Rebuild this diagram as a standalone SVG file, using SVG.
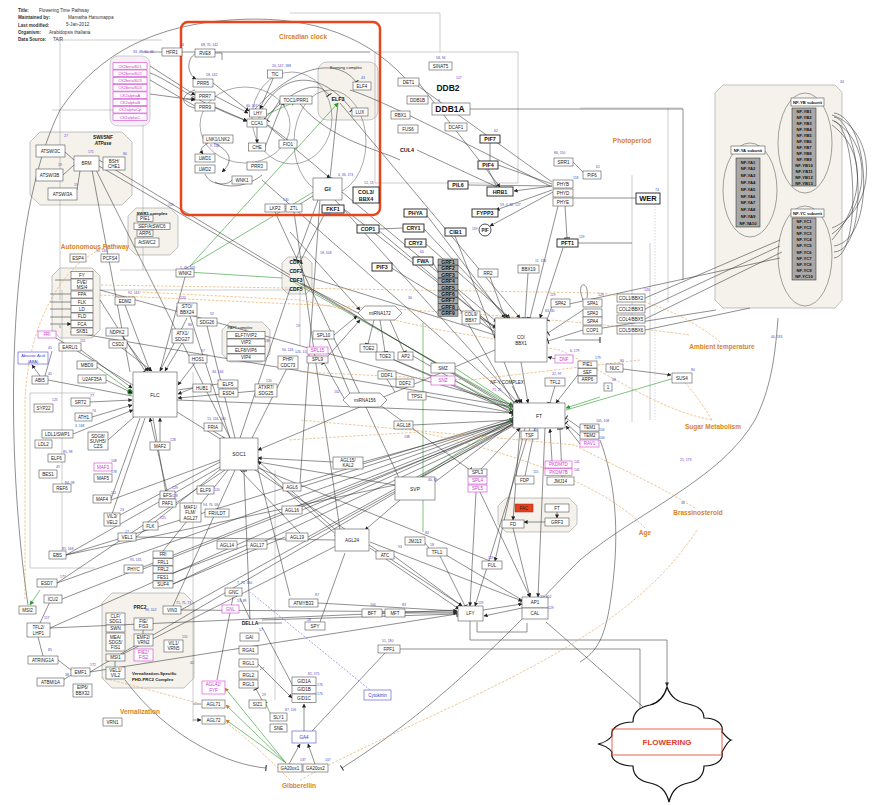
<svg xmlns="http://www.w3.org/2000/svg" width="877" height="805" viewBox="0 0 877 805">
<defs>
<style>
text{font-family:"Liberation Sans","DejaVu Sans",sans-serif;font-size:4.5px;fill:#222;text-anchor:middle;dominant-baseline:central}
.n{fill:#fff;stroke:#555;stroke-width:.6}
.nb{fill:#fff;stroke:#222;stroke-width:.9}
.b{font-weight:bold;font-size:5.4px;fill:#111}
.mg{fill:#fff;stroke:#d23ed2;stroke-width:.6}
.m{fill:#c83cc8}
.bl{fill:#fff;stroke:#4a4ad0;stroke-width:.6}
.bt{fill:#3a3ac8}
.dk{fill:#a8a8a8;stroke:#222;stroke-width:.5}
.g{fill:#f4f2eb;stroke:#aaa;stroke-width:.7}
.num{fill:#4848c8;font-size:3.4px;text-anchor:start}
.lab{fill:#d9841c;font-weight:bold;font-size:6.5px}
.hd{font-size:4.6px;text-anchor:start;fill:#333}
.e{fill:none;stroke:#333;stroke-width:.55}
.e2{fill:none;stroke:#999;stroke-width:.5}
.gr{fill:none;stroke:#2c9a2c;stroke-width:.6}
.od{fill:none;stroke:#e2a050;stroke-width:.6;stroke-dasharray:2.5 1.5}
.bd{fill:none;stroke:#4a4ad0;stroke-width:.5;stroke-dasharray:2 1.5}
.nf{font-weight:bold;font-size:4.2px;fill:#111}
</style>
<marker id="a" viewBox="0 0 10 10" refX="9" refY="5" markerUnits="userSpaceOnUse" markerWidth="4" markerHeight="4" orient="auto"><path d="M0,0L10,5L0,10z" fill="#222"/></marker>
<marker id="ag" viewBox="0 0 10 10" refX="9" refY="5" markerUnits="userSpaceOnUse" markerWidth="4.5" markerHeight="4.5" orient="auto"><path d="M0,0L10,5L0,10z" fill="#2c9a2c"/></marker>
<marker id="ao" viewBox="0 0 10 10" refX="9" refY="5" markerUnits="userSpaceOnUse" markerWidth="4" markerHeight="4" orient="auto"><path d="M0,0L10,5L0,10z" fill="#c87a20"/></marker>
<marker id="t" viewBox="0 0 10 10" refX="8" refY="5" markerUnits="userSpaceOnUse" markerWidth="6" markerHeight="6" orient="auto"><path d="M8,0V10" stroke="#222" stroke-width="1.6"/></marker>
<marker id="tg" viewBox="0 0 10 10" refX="8" refY="5" markerUnits="userSpaceOnUse" markerWidth="6" markerHeight="6" orient="auto"><path d="M8,0V10" stroke="#2c9a2c" stroke-width="1.6"/></marker>
</defs>
<rect width="877" height="805" fill="#fff"/>

<g id="header">
<text class="hd" x="18" y="10"><tspan font-weight="bold">Title:</tspan></text><text class="hd" x="39" y="10">Flowering Time Pathway</text>
<text class="hd" x="18" y="17"><tspan font-weight="bold">Maintained by:</tspan></text><text class="hd" x="68" y="17">Mamatha Hanumappa</text>
<text class="hd" x="18" y="24.5"><tspan font-weight="bold">Last modified:</tspan></text><text class="hd" x="66" y="24.5">5-Jan-2012</text>
<text class="hd" x="18" y="32"><tspan font-weight="bold">Organism:</tspan></text><text class="hd" x="49" y="32">Arabidopsis thaliana</text>
<text class="hd" x="18" y="39"><tspan font-weight="bold">Data Source:</tspan></text><text class="hd" x="53" y="39">TAIR</text>
</g>

<g id="groups">
<rect class="g" x="318" y="62" width="60" height="58" rx="9"/>
<text x="346" y="67" style="font-size:4.2px">Evening complex</text>
<rect x="110" y="56" width="40" height="70" rx="8" fill="#f6eff6" stroke="#bbb" stroke-width=".7"/>
<path class="g" d="M40,132H122L132,142V195L122,205H40L30,195V142Z"/>
<text x="103" y="137.5" style="font-weight:bold;font-size:4.8px">SWI/SNF</text>
<text x="103" y="143.5" style="font-weight:bold;font-style:italic;font-size:4.6px">ATPase</text>
<path class="g" d="M136,208H170L178,216V247L170,255H136L128,247V216Z"/>
<text x="152" y="213" style="font-weight:bold;font-size:4.3px">SWR1 complex</text>
<path class="g" d="M60,268H92L100,276V330L92,338H60L52,330V276Z"/>
<path class="g" d="M230,322H262L270,330V354L262,362H230L222,354V330Z"/>
<text x="240" y="327" style="font-size:3.9px">PAF1 complex</text>
<path class="g" d="M112,593H184L194,603V678L184,688H112L102,678V603Z"/>
<text x="140" y="607" style="font-weight:bold;font-size:4.8px">PRC2</text>
<text x="132" y="673" style="font-weight:bold;font-size:4.3px;text-anchor:start">Vernalization-Specific</text>
<text x="132" y="679" style="font-weight:bold;font-size:4.3px;text-anchor:start">PHD-PRC2 Complex</text>
<path class="g" d="M288,257H306L312,263V288L306,294H288L282,288V263Z"/>
<path class="g" d="M506,498H569L577,506V524L569,532H506L498,524V506Z"/>
<path class="g" d="M723,85H835L842,92V300L835,308H723L715,300V93Z"/>
<ellipse cx="805" cy="143" rx="27" ry="50" fill="none" stroke="#666" stroke-width=".6"/>
<ellipse cx="750" cy="190" rx="27" ry="47" fill="none" stroke="#666" stroke-width=".6"/>
<ellipse cx="805" cy="256" rx="27" ry="50" fill="none" stroke="#666" stroke-width=".6"/>
</g>

<g id="frames">
<path class="e2" d="M290,13H440V52M375,52H518V183H375ZM580,108H683M668,108V303M632,175V422M650,243V420M60,40V300M60,40H162M52,110H145M30,393V568H95M30,393H95M62,290V560M193,372V722M275,470V700M143,125V270M120,270H185M100,290H300V345"/>
<path d="M655,200V420" fill="none" stroke="#aac" stroke-width=".5" stroke-dasharray="1.5 1.5"/>
</g>

<g id="connectors">
<!-- big arcs -->
<path class="e" d="M28,605C5,450 5,220 60,110C100,50 160,25 230,20C300,15 360,30 405,78"/>
<path class="e" d="M778,318C775,360 770,390 755,420C720,480 640,510 580,560C520,620 450,700 342,768" marker-end="url(#t)"/>
<path class="e" d="M125,680C170,740 230,765 266,768" marker-end="url(#t)"/>
<path class="e" d="M600,440C615,480 620,530 612,590C606,640 596,652 580,662"/>
<path class="e" d="M832,115C878,130 878,210 832,228M832,120C872,140 872,205 832,234M832,125C866,150 866,200 832,240M834,113C870,118 877,240 834,246M834,117C862,122 870,250 834,252M834,121C856,126 862,255 834,258"/>
<path class="e" d="M780,240L645,298M780,246L645,309M782,252L645,319M750,308L645,330M780,258L560,306M716,310L590,330"/>
<path class="e" d="M470,109H683V280"/>
<!-- circadian -->
<ellipse cx="245" cy="125" rx="45" ry="38" fill="none" stroke="#555" stroke-width=".5"/>
<ellipse cx="292" cy="118" rx="40" ry="46" fill="none" stroke="#555" stroke-width=".5"/>
<ellipse cx="330" cy="142" rx="36" ry="52" fill="none" stroke="#555" stroke-width=".5"/>
<path class="e" d="M182,52H370"/>
<path class="e" d="M196,53C185,60 188,75 196,79" marker-end="url(#a)"/>
<path class="e" d="M213,83L249,111" marker-end="url(#a)"/>
<path class="e" d="M215,96L248,113" marker-end="url(#a)"/>
<path class="e" d="M215,107L247,121" marker-end="url(#a)"/>
<path class="e" d="M280,100L267,120" marker-end="url(#t)"/>
<path class="e" d="M257,127V143" marker-end="url(#a)"/>
<path class="e" d="M265,147L282,104" marker-end="url(#t)"/>
<path class="e" d="M267,125L330,178" marker-end="url(#a)"/>
<path class="e" d="M338,103L330,178" marker-end="url(#t)"/>
<path class="e" d="M255,109C300,60 340,60 356,82" marker-end="url(#t)"/>
<path class="e" d="M262,109C290,62 330,80 352,110" marker-end="url(#t)"/>
<path class="e" d="M264,119C300,82 320,82 329,95" marker-end="url(#t)"/>
<path class="e" d="M275,74L260,109" marker-end="url(#a)"/>
<path class="e" d="M288,140L268,125"/>
<path class="e" d="M208,143C200,148 200,150 203,154" marker-end="url(#a)"/>
<path class="e" d="M205,174C210,186 228,186 232,180"/>
<path class="e" d="M186,99H195" marker-end="url(#a)"/>
<path class="e" d="M195,90C180,95 180,105 195,108"/>
<path class="e" d="M215,53H222V60"/>
<path class="e" d="M210,141C230,150 235,160 222,172" marker-end="url(#a)"/>
<path class="e" d="M262,175C250,185 230,190 215,182"/>
<path class="e" d="M300,104C330,140 380,150 400,160"/>
<path class="e" d="M350,90C380,100 420,120 550,186"/>
<path class="e" d="M340,103L520,318" marker-end="url(#a)"/>
<path class="e" d="M335,200L518,403" marker-end="url(#a)"/>
<path class="e" d="M342,192L497,322" marker-end="url(#a)"/>
<path class="e" d="M344,209L496,328" marker-end="url(#a)"/>
<path class="e" d="M325,213L300,262" marker-end="url(#t)"/>
<path class="e" d="M318,200L296,260" marker-end="url(#t)"/>
<path class="e" d="M300,204L313,196"/>
<path class="e" d="M150,73C170,80 190,100 247,121" marker-end="url(#a)"/>
<path class="e" d="M150,66L195,95" marker-end="url(#a)"/>
<path class="e" d="M150,94L195,100" marker-end="url(#a)"/>
<path class="e" d="M150,80L195,106"/>
<path class="e" d="M162,52H142"/>
<path class="gr" d="M185,269L325,185"/>
<path class="gr" d="M190,266L338,103" marker-end="url(#ag)"/>
<path class="gr" d="M188,272L282,278"/>
<path class="gr" d="M258,118L295,102" marker-end="url(#ag)"/>
<path class="gr" d="M290,280L513,406" marker-end="url(#ag)"/>
<path class="gr" d="M423,323V532"/>
<!-- photoperiod -->
<path class="e" d="M418,82L500,187" marker-end="url(#a)"/>
<path class="e" d="M417,150L497,187"/>
<path class="e" d="M488,169L497,187"/>
<path class="e" d="M490,143V161"/>
<path class="e" d="M552,186L514,191" marker-end="url(#a)"/>
<path class="e" d="M552,184L498,165"/>
<path class="e" d="M552,186L468,185"/>
<path class="e" d="M552,182L418,86"/>
<path class="e" d="M552,190L496,210" marker-end="url(#a)"/>
<path class="e" d="M553,192L490,226" marker-end="url(#a)"/>
<path class="e" d="M558,206L530,318" marker-end="url(#t)"/>
<path class="e" d="M565,206L567,238" marker-end="url(#t)"/>
<path class="e" d="M573,198L636,198"/>
<path class="e" d="M573,162L583,172"/>
<path class="e" d="M563,248L540,318" marker-end="url(#a)"/>
<path class="e" d="M578,243H632"/>
<path class="e" d="M425,213L505,318" marker-end="url(#a)"/>
<path class="e" d="M423,228L508,318" marker-end="url(#a)"/>
<path class="e" d="M425,243L510,318" marker-end="url(#a)"/>
<path class="e" d="M378,230L497,330" marker-end="url(#t)"/>
<path class="e" d="M379,229L403,228"/>
<path class="e" d="M432,261L515,405" marker-end="url(#t)"/>
<path class="e" d="M455,236L520,403" marker-end="url(#a)"/>
<path class="e" d="M456,290L496,335"/>
<path class="e" d="M390,267L497,333"/>
<path class="e" d="M490,277L505,318" marker-end="url(#a)"/>
<path class="e" d="M528,273L525,318" marker-end="url(#t)"/>
<path class="e" d="M480,318L495,326" marker-end="url(#t)"/>
<path class="e" d="M552,306L547,320" marker-end="url(#t)"/>
<path class="e" d="M583,310L548,333" marker-end="url(#t)"/>
<path class="e" d="M583,330L548,341" marker-end="url(#t)"/>
<path class="e" d="M583,300C575,280 590,280 587,298"/>
<path class="e" d="M302,275L495,335" marker-end="url(#t)"/>
<path class="e" d="M302,283L513,410" marker-end="url(#t)"/>
<path class="e" d="M521,362L528,403" marker-end="url(#a)"/>
<path class="e" d="M495,350L258,450" marker-end="url(#a)"/>
<path class="e" d="M512,386L522,403" marker-end="url(#a)"/>
<path class="e" d="M555,386L550,403" marker-end="url(#t)"/>
<path class="e" d="M556,359L548,357" marker-end="url(#a)"/>
<path class="e" d="M565,340H600" marker-end="url(#t)"/>
<!-- center -->
<path class="e" d="M380,320L385,352" marker-end="url(#t)"/>
<path class="e" d="M374,320L368,344" marker-end="url(#t)"/>
<path class="e" d="M390,320L404,352" marker-end="url(#t)"/>
<path class="e" d="M376,352L513,410" marker-end="url(#t)"/>
<path class="e" d="M394,360L513,412" marker-end="url(#t)"/>
<path class="e" d="M413,356L513,414" marker-end="url(#t)"/>
<path class="e" d="M334,335L357,316" marker-end="url(#a)"/>
<path class="e" d="M328,356L360,320" marker-end="url(#a)"/>
<path class="e" d="M345,400L324,363" marker-end="url(#t)"/>
<path class="e" d="M350,394L327,339" marker-end="url(#t)"/>
<path class="e" d="M380,405L470,470" marker-end="url(#t)"/>
<path class="e" d="M358,313L300,283"/>
<path class="e" d="M290,232L360,310" marker-end="url(#a)"/>
<path class="e" d="M387,379L395,392"/>
<path class="gr" d="M455,368L513,406" marker-end="url(#ag)"/>
<path class="gr" d="M455,381L513,410" marker-end="url(#ag)"/>
<path class="e" d="M426,396L513,413" marker-end="url(#a)"/>
<path class="e" d="M413,425L513,420" marker-end="url(#t)"/>
<path class="e" d="M435,482L513,423" marker-end="url(#t)"/>
<path class="e" d="M395,485L258,462" marker-end="url(#t)"/>
<path class="e" d="M363,462L513,421" marker-end="url(#t)"/>
<path class="e" d="M333,462L258,458" marker-end="url(#a)"/>
<path class="gr" d="M420,477L513,418" marker-end="url(#ag)"/>
<path class="e" d="M480,470L520,428" marker-end="url(#a)"/>
<path class="e" d="M480,492L530,597" marker-end="url(#a)"/>
<path class="e" d="M476,492L470,606" marker-end="url(#a)"/>
<path class="e" d="M520,428L513,520" marker-end="url(#a)"/>
<path class="e" d="M513,528L530,597" marker-end="url(#a)"/>
<path class="e" d="M545,428L538,597" marker-end="url(#a)"/>
<path class="e" d="M530,428L475,606" marker-end="url(#a)"/>
<path class="e" d="M525,428L495,561" marker-end="url(#a)"/>
<path class="e" d="M525,476L535,428"/>
<path class="e" d="M552,461L550,429" marker-end="url(#a)"/>
<path class="e" d="M562,477L560,429" marker-end="url(#t)"/>
<path class="e" d="M580,428L566,418" marker-end="url(#t)"/>
<path class="e" d="M580,436L566,423" marker-end="url(#t)"/>
<path class="e" d="M580,444L566,426" marker-end="url(#a)"/>
<path class="gr" d="M600,397L566,408" marker-end="url(#ag)"/>
<path class="gr" d="M566,410L678,377" marker-end="url(#ag)"/>
<path class="e" d="M623,369L671,375" marker-end="url(#a)"/>
<path class="e" d="M580,372L556,403" marker-end="url(#a)"/>
<path class="e" d="M557,512V518" marker-end="url(#a)"/>
<path class="e" d="M545,522H524" marker-end="url(#a)"/>
<!-- FLC / SOC1 -->
<path class="e" d="M177,400L513,413" marker-end="url(#t)"/>
<path class="e" d="M177,412L222,440" marker-end="url(#t)"/>
<path class="e" d="M258,466L338,536" marker-end="url(#a)"/>
<path class="e" d="M338,532L258,461" marker-end="url(#a)"/>
<path class="e" d="M255,470L462,606" marker-end="url(#a)"/>
<path class="e" d="M258,468L490,561"/>
<path class="e" d="M370,548L459,609" marker-end="url(#a)"/>
<path class="e" d="M370,542L522,601" marker-end="url(#a)"/>
<path class="e" d="M400,500L365,530" marker-end="url(#a)"/>
<path class="e" d="M425,543L429,548"/>
<path class="e" d="M394,556L462,606" marker-end="url(#a)"/>
<path class="e" d="M440,556L465,606" marker-end="url(#t)"/>
<path class="e" d="M446,555L522,600" marker-end="url(#t)"/>
<path class="e" d="M382,613H386" marker-end="url(#t)"/>
<path class="e" d="M405,613H457" marker-end="url(#a)"/>
<path class="e" d="M318,603L457,611" marker-end="url(#a)"/>
<path class="e" d="M483,610L522,604" marker-end="url(#a)"/>
<path class="e" d="M522,608L484,616" marker-end="url(#a)"/>
<path class="e" d="M470,621V640H667V686" marker-end="url(#a)"/>
<path class="e" d="M477,622V632H527V623"/>
<path class="e" d="M400,649H640V726" marker-end="url(#a)"/>
<path class="e" d="M546,622L665,726" marker-end="url(#a)"/>
<path class="e" d="M55,280H71M50,294H71M50,302H71M50,309H71M50,317H71M50,324H71" marker-end="url(#a)"/>
<path class="e" d="M100,300L145,371" marker-end="url(#t)"/>
<path class="e" d="M125,305L150,371" marker-end="url(#a)"/>
<path class="e" d="M122,336L148,371" marker-end="url(#a)"/>
<path class="e" d="M122,348L152,371" marker-end="url(#a)"/>
<path class="e" d="M187,318L160,371" marker-end="url(#a)"/>
<path class="e" d="M182,343L165,371" marker-end="url(#a)"/>
<path class="e" d="M195,363L178,385" marker-end="url(#a)"/>
<path class="e" d="M193,388L178,394" marker-end="url(#a)"/>
<path class="e" d="M218,384L178,390"/>
<path class="e" d="M255,391L178,398" marker-end="url(#a)"/>
<path class="gr" d="M97,367L132,392" marker-end="url(#ag)"/>
<circle cx="130" cy="392" r="2.6" fill="#1c9a1c"/>
<path class="e" d="M106,380L132,393" marker-end="url(#a)"/>
<path class="e" d="M90,402L132,400" marker-end="url(#a)"/>
<path class="e" d="M92,417L132,405" marker-end="url(#a)"/>
<path class="e" d="M81,350L132,388" marker-end="url(#a)"/>
<path class="e" d="M160,442V418" marker-end="url(#a)"/>
<path class="e" d="M167,491L150,418" marker-end="url(#a)"/>
<path class="e" d="M167,499L153,418"/>
<path class="e" d="M112,514L145,418"/>
<path class="e" d="M111,499L140,418"/>
<path class="e" d="M108,440L134,417"/>
<path class="e" d="M73,434L133,410" marker-end="url(#a)"/>
<path class="e" d="M56,338L133,385"/>
<path class="e" d="M40,376L32,365" marker-end="url(#a)"/>
<path class="e" d="M45,376L52,351"/>
<path class="e" d="M48,380L132,396"/>
<path class="e" d="M99,160L290,275M95,168L230,438M92,170L130,372M99,166L513,408"/>
<path class="e" d="M65,152L74,160M63,175L74,165M77,190L80,171"/>
<path class="gr" d="M40,590L30,605" marker-end="url(#ag)"/>
<path class="e" d="M66,555L513,418M57,583L513,420M62,599L513,421M50,628L513,422M90,672L513,424M143,569L513,424M173,584L513,425M181,610L513,426M301,487L513,420M302,510L513,422M308,537L513,424M100,290L513,405M70,332L513,407"/>
<path class="e" d="M66,555L222,466M57,583L225,470M136,537L222,468M163,551L228,470M173,606L235,470M111,500L220,460M120,515L220,462"/>
<path class="e" d="M66,555L395,485M115,658L338,545M181,610L457,612M90,672L457,614M50,628L457,610M136,537L335,540M173,584L285,537M163,577L247,545"/>
<path class="e" d="M290,289L240,438M185,277L160,371M190,316L230,438M207,326L235,438M288,366L252,438M213,431L225,438"/>
<path class="e" d="M262,180L515,403M275,212L400,480M294,212L340,530M320,200L300,483M240,470L300,533M258,470L290,596"/>
<path class="e" d="M240,598L250,619M262,627L295,690" marker-end="url(#t)"/>
<path class="e" d="M250,619L244,471" marker-end="url(#t)"/>
<path class="e" d="M262,620L457,614" marker-end="url(#t)"/>
<path class="e" d="M257,663L292,698" marker-end="url(#a)"/>
<path class="e" d="M262,700L256,689" marker-end="url(#t)"/>
<path class="gr" d="M270,713L264,700" marker-end="url(#ag)"/>
<path class="e" d="M289,764L300,744" marker-end="url(#a)"/>
<path class="e" d="M315,764L308,744" marker-end="url(#a)"/>
<path class="e" d="M304,731V704" marker-end="url(#a)"/>
<path class="e" d="M312,731L385,653"/>
<path class="e" d="M258,623H282"/>
<path class="e" d="M320,622L345,553"/>
<path class="e" d="M217,680L233,597"/>
<path class="e" d="M193,704H201M193,720H201" marker-end="url(#a)"/>
<path class="gr" d="M286,763L225,688" marker-end="url(#ao)"/>
<path class="gr" d="M286,763L226,705" marker-end="url(#ao)"/>
<path class="gr" d="M286,763L226,720" marker-end="url(#ao)"/>
<path class="bd" d="M370,690L250,592"/>
<path class="e" d="M115,661V667M143,630V634"/>
<path class="e" d="M53,595L40,623M38,637L43,656M58,660L71,670M60,682L71,675"/>
<!-- orange dashed -->
<path class="od" d="M720,342C700,325 660,300 600,293L100,285"/>
<path class="od" d="M712,420C700,400 692,390 684,382"/>
<path class="od" d="M712,420C660,410 620,380 560,350L440,330L300,300L140,292"/>
<path class="od" d="M695,508C650,480 600,460 575,445L300,420"/>
<path class="od" d="M645,528C600,480 500,450 420,432L288,440"/>
<path class="od" d="M300,780C450,700 620,650 697,530"/>
<path class="od" d="M290,780C270,760 250,740 225,722"/>
<path class="od" d="M197,703C170,695 130,685 100,677"/>
<path class="od" d="M115,245C80,250 30,300 25,400V600"/>
<path class="od" d="M100,295C300,305 500,310 690,335"/>
<path class="od" d="M640,360L470,380L300,372"/>
</g>

<g id="circadian-clock">
<rect x="181" y="22" width="199" height="193" rx="7" fill="none" stroke="#e8451e" stroke-width="2.5"/>
<text class="lab" x="303" y="36">Circadian clock</text>
</g>

<g id="nodes">
<g id="RVE8"><rect class="n" x="195" y="49" width="20" height="8"/><text x="205" y="53">RVE8</text></g>
<g id="PRR5"><rect class="n" x="193" y="79" width="20" height="8"/><text x="203" y="83">PRR5</text></g>
<g id="PRR7"><rect class="n" x="195" y="92" width="20" height="8"/><text x="205" y="96">PRR7</text></g>
<g id="PRR9"><rect class="n" x="195" y="103" width="20" height="8"/><text x="205" y="107">PRR9</text></g>
<g id="LHY"><rect class="n" x="249.5" y="109" width="17" height="8"/><text x="258" y="113">LHY</text></g>
<g id="CCA1"><rect class="n" x="247" y="119" width="20" height="8"/><text x="257" y="123">CCA1</text></g>
<g id="LNK"><rect class="n" x="203" y="135" width="30" height="8"/><text x="218" y="139">LNK1/LNK2</text></g>
<g id="LWD1"><rect class="n" x="195" y="154" width="20" height="8"/><text x="205" y="158">LWD1</text></g>
<g id="LWD2"><rect class="n" x="195" y="165" width="20" height="8"/><text x="205" y="169">LWD2</text></g>
<g id="CHE"><rect class="n" x="248.5" y="143" width="17" height="8"/><text x="257" y="147">CHE</text></g>
<g id="PRR3"><rect class="n" x="247" y="162" width="20" height="8"/><text x="257" y="166">PRR3</text></g>
<g id="WNK1"><rect class="n" x="232" y="176" width="20" height="8"/><text x="242" y="180">WNK1</text></g>
<g id="TIC"><rect class="n" x="267.5" y="70" width="15" height="8"/><text x="275" y="74">TIC</text></g>
<g id="TOC1"><rect class="n" x="280" y="96" width="32" height="8"/><text x="296" y="100">TOC1/PRR1</text></g>
<g id="FIO1"><rect class="n" x="279" y="140" width="18" height="8"/><text x="288" y="144">FIO1</text></g>
<g id="ELF3"><text class="b" x="338" y="99">ELF3</text></g>
<g id="ELF4"><rect class="n" x="353" y="82" width="18" height="8"/><text x="362" y="86">ELF4</text></g>
<g id="LUX"><rect class="n" x="352" y="108" width="16" height="8"/><text x="360" y="112">LUX</text></g>
<g id="GI"><rect class="n" x="313" y="178" width="29" height="22"/><text x="327.5" y="189" style="font-weight:bold;font-size:6px">GI</text></g>
<g id="COL3"><rect class="nb" x="353" y="187" width="26" height="16"/><text class="b" x="366" y="192">COL3/</text><text class="b" x="366" y="198.5">BBX4</text></g>
<g id="FKF1"><rect class="nb" x="322" y="205" width="22" height="8"/><text class="b" x="333" y="209">FKF1</text></g>
<g id="LKP2"><rect class="n" x="265" y="204" width="20" height="8"/><text x="275" y="208">LKP2</text></g>
<g id="ZTL"><rect class="n" x="286" y="204" width="16" height="8"/><text x="294" y="208">ZTL</text></g>
<g id="HFR1"><rect class="n" x="162" y="48" width="20" height="8"/><text x="172" y="52">HFR1</text></g>

<g id="CK2">
<rect class="mg" x="113" y="62.7" width="34" height="6.5"/><text class="m" x="130" y="66" style="font-size:4px">CK2betaSU1</text>
<rect class="mg" x="113" y="70" width="34" height="6.5"/><text class="m" x="130" y="73.3" style="font-size:4px">CK2betaSU2</text>
<rect class="mg" x="113" y="77.3" width="34" height="6.5"/><text class="m" x="130" y="80.6" style="font-size:4px">CK2betaSU3</text>
<rect class="mg" x="113" y="84.6" width="34" height="6.5"/><text class="m" x="130" y="87.9" style="font-size:4px">CK2betaSU4</text>
<rect class="mg" x="113" y="91.9" width="34" height="6.5"/><text class="m" x="130" y="95.2" style="font-size:4px">CK2alphaA</text>
<rect class="mg" x="113" y="99.2" width="34" height="6.5"/><text class="m" x="130" y="102.5" style="font-size:4px">CK2alphaB</text>
<rect class="mg" x="113" y="106.5" width="34" height="6.5"/><text class="m" x="130" y="109.8" style="font-size:4px">CK2alphaCp</text>
<rect class="mg" x="113" y="113.8" width="34" height="6.5"/><text class="m" x="130" y="117.1" style="font-size:4px">CK2alphaC</text>
</g>

<g id="ATSWI3C"><rect class="n" x="36" y="145" width="29" height="12"/><text x="50.5" y="151">ATSWI3C</text></g>
<g id="ATSWI3B"><rect class="n" x="36" y="169" width="27" height="12"/><text x="49.5" y="175">ATSWI3B</text></g>
<g id="ATSWI3A"><rect class="n" x="48" y="188" width="29" height="12"/><text x="62.5" y="194">ATSWI3A</text></g>
<g id="BRM"><rect class="n" x="74" y="156" width="25" height="15"/><text x="86.5" y="163.5">BRM</text></g>
<g id="BSH"><rect class="n" x="103" y="157" width="22" height="13"/><text x="114" y="161">BSH/</text><text x="114" y="166.5">CHE1</text></g>

<g id="PIE1a"><rect class="n" x="137" y="215" width="16" height="6.5"/><text x="145" y="218.3">PIE1</text></g>
<g id="SEF"><rect class="n" x="134" y="223" width="36" height="6.5"/><text x="152" y="226.3">SEF/AtSWC6</text></g>
<g id="ARP6a"><rect class="n" x="137" y="230" width="16" height="6.5"/><text x="145" y="233.3">ARP6</text></g>
<g id="AtSWC2"><rect class="n" x="135" y="238" width="24" height="9"/><text x="147" y="242.5">AtSWC2</text></g>

<g id="ESP4"><rect class="n" x="70" y="254" width="16" height="8"/><text x="78" y="258">ESP4</text></g>
<g id="PCFS4"><rect class="n" x="101" y="254" width="18" height="8"/><text x="110" y="258">PCFS4</text></g>
<g id="WNK2"><rect class="n" x="176" y="269" width="18" height="8"/><text x="185" y="273">WNK2</text></g>

<g id="autonomous">
<rect class="n" x="71" y="271.5" width="22" height="7"/><text x="82" y="275">FY</text>
<rect class="n" x="71" y="279" width="22" height="11"/><text x="82" y="282">FVE/</text><text x="82" y="287.5">MSI4</text>
<rect class="n" x="71" y="291" width="22" height="7"/><text x="82" y="294.5">FPA</text>
<rect class="n" x="71" y="298.5" width="22" height="7"/><text x="82" y="302">FLK</text>
<rect class="n" x="71" y="305.5" width="22" height="7"/><text x="82" y="309">LD</text>
<rect class="n" x="71" y="313" width="22" height="7"/><text x="82" y="316.5">FLD</text>
<rect class="n" x="71" y="320.5" width="22" height="7"/><text x="82" y="324">FCA</text>
<rect class="n" x="71" y="328" width="22" height="7"/><text x="82" y="331.5">SKB1</text>
</g>

<g id="FRI1"><rect class="mg" x="38" y="331" width="18" height="7"/><text class="m" x="47" y="334.5">FRI</text></g>
<g id="EARLI1"><rect class="n" x="59" y="343" width="22" height="8"/><text x="70" y="347">EARLI1</text></g>
<g id="ABA"><rect class="bl" x="18" y="352" width="30" height="12"/><text class="bt" x="33" y="355.5" style="font-size:4px">Abscisic Acid</text><text class="bt" x="33" y="361" style="font-size:4px">(ABA)</text></g>
<g id="ABI5"><rect class="n" x="32" y="376" width="16" height="8"/><text x="40" y="380">ABI5</text></g>
<g id="MBD9"><rect class="n" x="77" y="361" width="20" height="8"/><text x="87" y="365">MBD9</text></g>
<g id="U2AF35A"><rect class="n" x="78" y="375" width="28" height="8"/><text x="92" y="379">U2AF35A</text></g>
<g id="SYP22"><rect class="n" x="34" y="404" width="19" height="8"/><text x="43.5" y="408">SYP22</text></g>
<g id="SRT2"><rect class="n" x="71" y="398" width="19" height="8"/><text x="80.5" y="402">SRT2</text></g>
<g id="ATH1"><rect class="n" x="75" y="413" width="17" height="8"/><text x="83.5" y="417">ATH1</text></g>
<g id="LDL1"><rect class="n" x="42" y="430" width="31" height="8"/><text x="57.5" y="434">LDL1/SWP1</text></g>
<g id="LDL2"><rect class="n" x="35" y="440" width="17" height="8"/><text x="43.5" y="444">LDL2</text></g>
<g id="SDG8"><rect class="n" x="88" y="432" width="20" height="18"/><text x="98" y="436.5">SDG8/</text><text x="98" y="441.5">SUVH5/</text><text x="98" y="446.5">CZS</text></g>
<g id="ELF6"><rect class="n" x="48" y="454" width="17" height="8"/><text x="56.5" y="458">ELF6</text></g>
<g id="BES1"><rect class="n" x="39" y="470" width="18" height="8"/><text x="48" y="474">BES1</text></g>
<g id="REF6"><rect class="n" x="53" y="484" width="18" height="8"/><text x="62" y="488">REF6</text></g>
<g id="MAF3"><rect class="mg" x="94" y="463" width="18" height="8"/><text class="m" x="103" y="467">MAF3</text></g>
<g id="MAF5"><rect class="n" x="94" y="474" width="18" height="8"/><text x="103" y="478">MAF5</text></g>
<g id="MAF4"><rect class="n" x="93" y="495" width="18" height="8"/><text x="102" y="499">MAF4</text></g>
<g id="VIL3"><rect class="n" x="104" y="513" width="16" height="13"/><text x="112" y="516.5">VIL3/</text><text x="112" y="522">VEL2</text></g>
<g id="FLC"><rect class="n" x="133" y="372" width="44" height="45"/><text x="155" y="394.5" style="font-size:5px">FLC</text></g>
<g id="NDPK2"><rect class="n" x="106" y="328" width="22" height="8"/><text x="117" y="332">NDPK2</text></g>
<g id="CSD2"><rect class="n" x="109" y="340" width="18" height="8"/><text x="118" y="344">CSD2</text></g>
<g id="EDM2"><rect class="n" x="115" y="297" width="20" height="8"/><text x="125" y="301">EDM2</text></g>
<g id="STO"><rect class="n" x="177" y="303" width="20" height="13"/><text x="187" y="306.5">STO/</text><text x="187" y="312">BBX24</text></g>
<g id="SDG26"><rect class="n" x="197" y="318" width="20" height="8"/><text x="207" y="322">SDG26</text></g>
<g id="ATX1"><rect class="n" x="172" y="329" width="21" height="14"/><text x="182.5" y="333">ATX1/</text><text x="182.5" y="339">SDG27</text></g>
<g id="HOS1"><rect class="n" x="189" y="355" width="18" height="8"/><text x="198" y="359">HOS1</text></g>
<g id="PAF1c">
<rect class="n" x="227" y="331.5" width="38" height="7"/><text x="246" y="335">ELF7/VIP2</text>
<rect class="n" x="227" y="339" width="38" height="7"/><text x="246" y="342.5">VIP3</text>
<rect class="n" x="227" y="346.5" width="38" height="7"/><text x="246" y="350">ELF8/VIP6</text>
<rect class="n" x="227" y="354" width="38" height="7"/><text x="246" y="357.5">VIP4</text>
</g>
<g id="PHP"><rect class="n" x="278" y="356" width="20" height="13"/><text x="288" y="359.5">PHP/</text><text x="288" y="365">CDC73</text></g>
<g id="HUB1"><rect class="n" x="193" y="384" width="18" height="8"/><text x="202" y="388">HUB1</text></g>
<g id="ELF5"><rect class="n" x="218" y="380" width="20" height="8"/><text x="228" y="384">ELF5</text></g>
<g id="ESD4"><rect class="n" x="219" y="389" width="19" height="8"/><text x="228.5" y="393">ESD4</text></g>
<g id="ATXR7"><rect class="n" x="255" y="384" width="22" height="13"/><text x="266" y="387.5">ATXR7/</text><text x="266" y="393">SDG25</text></g>
<g id="FLX"><rect class="n" x="204" y="423" width="18" height="8"/><text x="213" y="427">FRIA</text></g>
<g id="MAF2"><rect class="n" x="150" y="442" width="20" height="8"/><text x="160" y="446">MAF2</text></g>
<g id="SOC1"><rect class="n" x="220" y="438" width="38" height="32"/><text x="239" y="454" style="font-size:5px">SOC1</text></g>
<g id="ELF9"><rect class="n" x="197" y="486" width="17" height="8"/><text x="205.5" y="490">ELF9</text></g>
<g id="EFS"><rect class="n" x="160" y="491" width="15" height="8"/><text x="167.5" y="495">EFS</text></g>
<g id="PAF1"><rect class="n" x="159" y="499" width="17" height="8"/><text x="167.5" y="503">PAF1</text></g>
<g id="MAF1"><rect class="n" x="180" y="503" width="21" height="19"/><text x="190.5" y="507">MAF1/</text><text x="190.5" y="512.5">FLM/</text><text x="190.5" y="518">AGL27</text></g>
<g id="FRILDT"><rect class="n" x="205" y="509" width="24" height="8"/><text x="217" y="513">FRI/LDT</text></g>
<g id="FLK2"><rect class="n" x="143" y="522" width="15" height="8"/><text x="150.5" y="526">FLK</text></g>
<g id="VEL1"><rect class="n" x="118" y="533" width="18" height="8"/><text x="127" y="537">VEL1</text></g>
<g id="FRI"><rect class="n" x="153" y="551" width="20" height="7"/><text x="163" y="554.5">FRI</text></g>
<g id="FRL1"><rect class="n" x="153" y="558.5" width="20" height="7"/><text x="163" y="562">FRL1</text></g>
<g id="FRL2"><rect class="n" x="153" y="566" width="20" height="7"/><text x="163" y="569.5">FRL2</text></g>
<g id="FES1"><rect class="n" x="153" y="573.5" width="20" height="7"/><text x="163" y="577">FES1</text></g>
<g id="SUF4"><rect class="n" x="153" y="581" width="20" height="7"/><text x="163" y="584.5">SUF4</text></g>
<g id="PHYC"><rect class="n" x="124" y="565" width="19" height="8"/><text x="133.5" y="569">PHYC</text></g>
<g id="EBS"><rect class="n" x="49" y="551" width="17" height="8"/><text x="57.5" y="555">EBS</text></g>
<g id="ESD7"><rect class="n" x="37" y="579" width="20" height="8"/><text x="47" y="583">ESD7</text></g>
<g id="ICU2"><rect class="n" x="44" y="595" width="18" height="8"/><text x="53" y="599">ICU2</text></g>
<g id="MSI2"><rect class="n" x="19" y="606" width="17" height="8"/><text x="27.5" y="610">MSI2</text></g>
<g id="TFL2LHP1"><rect class="n" x="27" y="623" width="23" height="14"/><text x="38.5" y="627">TFL2/</text><text x="38.5" y="633">LHP1</text></g>
<g id="ATRING1A"><rect class="n" x="28" y="656" width="30" height="8"/><text x="43" y="660">ATRING1A</text></g>
<g id="ATBMI1A"><rect class="n" x="37" y="678" width="27" height="8"/><text x="50.5" y="682">ATBMI1A</text></g>
<g id="EMF1"><rect class="n" x="71" y="668" width="19" height="8"/><text x="80.5" y="672">EMF1</text></g>
<g id="EIP6"><rect class="n" x="73" y="684" width="19" height="13"/><text x="82.5" y="687.5">EIP6/</text><text x="82.5" y="693">BBX32</text></g>
<g id="CLF"><rect class="n" x="106" y="613" width="19" height="12"/><text x="115.5" y="616">CLF/</text><text x="115.5" y="621.5">SDG1</text></g>
<g id="SWN"><rect class="n" x="106" y="625" width="19" height="7"/><text x="115.5" y="628.5">SWN</text></g>
<g id="MEA"><rect class="n" x="106" y="633" width="19" height="18"/><text x="115.5" y="637.5">MEA/</text><text x="115.5" y="642.5">SDG5/</text><text x="115.5" y="647.5">FIS1</text></g>
<g id="MSI1"><rect class="n" x="106" y="654" width="19" height="7"/><text x="115.5" y="657.5">MSI1</text></g>
<g id="FIE"><rect class="n" x="134" y="618" width="19" height="12"/><text x="143.5" y="621">FIE/</text><text x="143.5" y="626.5">FIS3</text></g>
<g id="EMF2"><rect class="n" x="134" y="634" width="19" height="12"/><text x="143.5" y="637">EMF2/</text><text x="143.5" y="642.5">VRN2</text></g>
<g id="FIS2"><rect class="mg" x="134" y="649" width="19" height="12"/><text class="m" x="143.5" y="652">FIE2/</text><text class="m" x="143.5" y="657.5">FIS2</text></g>
<g id="VIL1"><rect class="n" x="164" y="640" width="19" height="12"/><text x="173.5" y="643">VIL1/</text><text x="173.5" y="648.5">VRN5</text></g>
<g id="VIN3"><rect class="n" x="163" y="606" width="18" height="8"/><text x="172" y="610">VIN3</text></g>
<g id="VEL1VIL2"><rect class="n" x="106" y="667" width="19" height="12"/><text x="115.5" y="670">VEL1/</text><text x="115.5" y="675.5">VIL2</text></g>
<g id="VRN1"><rect class="n" x="103" y="718" width="19" height="8"/><text x="112.5" y="722">VRN1</text></g>
<g id="GNC"><rect class="n" x="225" y="588" width="17" height="8"/><text x="233.5" y="592">GNC</text></g>
<g id="GNL"><rect class="mg" x="222" y="605" width="17" height="8"/><text class="m" x="230.5" y="609">GNL</text></g>
<g id="DELLA"><text x="250" y="623" style="font-weight:bold;font-size:5px">DELLA</text></g>
<g id="GAI"><rect class="n" x="240" y="633" width="19" height="8"/><text x="249.5" y="637">GAI</text></g>
<g id="RGA1"><rect class="n" x="239" y="646" width="19" height="8"/><text x="248.5" y="650">RGA1</text></g>
<g id="RGL1"><rect class="n" x="239" y="659" width="19" height="8"/><text x="248.5" y="663">RGL1</text></g>
<g id="RGL2"><rect class="n" x="239" y="671" width="19" height="8"/><text x="248.5" y="675">RGL2</text></g>
<g id="RGL3"><rect class="n" x="239" y="680" width="19" height="8"/><text x="248.5" y="684">RGL3</text></g>
<g id="AGL42"><rect class="mg" x="202" y="681" width="23" height="13"/><text class="m" x="213.5" y="684.5">AGL42/</text><text class="m" x="213.5" y="690">FYF</text></g>
<g id="AGL71"><rect class="n" x="202" y="700" width="23" height="8"/><text x="213.5" y="704">AGL71</text></g>
<g id="AGL72"><rect class="n" x="202" y="716" width="23" height="8"/><text x="213.5" y="720">AGL72</text></g>
<g id="SIZ1"><rect class="n" x="249" y="700" width="17" height="8"/><text x="257.5" y="704">SIZ1</text></g>
<g id="SLY1"><rect class="n" x="270" y="713" width="17" height="8"/><text x="278.5" y="717">SLY1</text></g>
<g id="SNE"><rect class="n" x="270" y="724" width="17" height="8"/><text x="278.5" y="728">SNE</text></g>
<g id="GA20ox1"><rect class="n" x="278" y="764" width="24" height="8"/><text x="290" y="768">GA20ox1</text></g>
<g id="GA20ox2"><rect class="n" x="303" y="764" width="25" height="8"/><text x="315.5" y="768">GA20ox2</text></g>
<g id="GA4"><rect class="bl" x="292" y="731" width="24" height="12"/><text class="bt" x="304" y="737">GA4</text></g>
<g id="GID1A"><rect class="n" x="292" y="677" width="24" height="8.5"/><text x="304" y="681.3">GID1A</text></g>
<g id="GID1B"><rect class="n" x="292" y="685.5" width="24" height="8.5"/><text x="304" y="689.8">GID1B</text></g>
<g id="GID1C"><rect class="n" x="292" y="694" width="24" height="8.5"/><text x="304" y="698.3">GID1C</text></g>
<g id="Cytokinin"><rect class="bl" x="364" y="690" width="27" height="10"/><text class="bt" x="377.5" y="695">Cytokinin</text></g>
<g id="FPF1"><rect class="n" x="378" y="645" width="22" height="8"/><text x="389" y="649">FPF1</text></g>
<g id="SPY"><rect class="n" x="305" y="622" width="20" height="8"/><text x="315" y="626">SPY</text></g>
<g id="ATMYB33"><rect class="n" x="289" y="599" width="29" height="8"/><text x="303.5" y="603">ATMYB33</text></g>
<g id="BFT"><rect class="n" x="362" y="609" width="20" height="8"/><text x="372" y="613">BFT</text></g>
<g id="MFT"><rect class="n" x="385" y="609" width="20" height="8"/><text x="395" y="613">MFT</text></g>
<g id="LFY"><rect class="n" x="458" y="606" width="25" height="15"/><text x="470.5" y="613.5">LFY</text></g>
<g id="AP1"><rect class="n" x="522" y="597" width="26" height="11"/><text x="535" y="602.5">AP1</text></g>
<g id="CAL"><rect class="n" x="522" y="608" width="26" height="11"/><text x="535" y="613.5">CAL</text></g>
<g id="FUL"><rect class="n" x="482" y="561" width="20" height="8"/><text x="492" y="565">FUL</text></g>
<g id="TFL1"><rect class="n" x="427" y="548" width="20" height="8"/><text x="437" y="552">TFL1</text></g>
<g id="JMJ13"><rect class="n" x="405" y="537" width="20" height="8"/><text x="415" y="541">JMJ13</text></g>
<g id="ATC"><rect class="n" x="376" y="551" width="18" height="8"/><text x="385" y="555">ATC</text></g>
<g id="AGL24"><rect class="n" x="335" y="529" width="34" height="22"/><text x="352" y="540">AGL24</text></g>
<g id="AGL19"><rect class="n" x="286" y="533" width="22" height="8"/><text x="297" y="537">AGL19</text></g>
<g id="AGL14"><rect class="n" x="217" y="541" width="20" height="8"/><text x="227" y="545">AGL14</text></g>
<g id="AGL17"><rect class="n" x="247" y="541" width="20" height="8"/><text x="257" y="545">AGL17</text></g>
<g id="AGL16"><rect class="n" x="282" y="506" width="20" height="8"/><text x="292" y="510">AGL16</text></g>
<g id="AGL6"><rect class="n" x="283" y="483" width="18" height="8"/><text x="292" y="487">AGL6</text></g>
<g id="AGL15"><rect class="n" x="333" y="457" width="30" height="12"/><text x="348" y="460">AGL15/</text><text x="348" y="465.5">KAL2</text></g>
<g id="SVP"><rect class="n" x="395" y="477" width="40" height="23"/><text x="415" y="488.5" style="font-size:5px">SVP</text></g>
<g id="miRNA172"><path class="n" d="M358,313L365,306H395L402,313L395,320H365Z"/><text x="380" y="313">miRNA172</text></g>
<g id="miRNA156"><path class="n" d="M343,400L350,393H380L387,400L380,407H350Z"/><text x="365" y="400">miRNA156</text></g>
<g id="SPL10"><rect class="n" x="313" y="331" width="21" height="8"/><text x="323.5" y="335">SPL10</text></g>
<g id="SPL15"><rect class="mg" x="307" y="347" width="21" height="7"/><text class="m" x="317.5" y="350.5">SPL15</text></g>
<g id="SPL9"><rect class="n" x="307" y="356" width="21" height="7"/><text x="317.5" y="359.5">SPL9</text></g>
<g id="TOE2"><rect class="n" x="360" y="344" width="17" height="8"/><text x="368.5" y="348">TOE2</text></g>
<g id="TOE3"><rect class="n" x="376" y="352" width="18" height="8"/><text x="385" y="356">TOE3</text></g>
<g id="AP2"><rect class="n" x="398" y="352" width="15" height="8"/><text x="405.5" y="356">AP2</text></g>
<g id="DDF1"><rect class="n" x="378" y="371" width="18" height="8"/><text x="387" y="375">DDF1</text></g>
<g id="DDF2"><rect class="n" x="396" y="379" width="18" height="8"/><text x="405" y="383">DDF2</text></g>
<g id="SMZ"><rect class="n" x="431" y="363" width="24" height="10"/><text x="443" y="368">SMZ</text></g>
<g id="SNZ"><rect class="mg" x="431" y="376" width="24" height="9"/><text class="m" x="443" y="380.5">SNZ</text></g>
<g id="TPS1"><rect class="n" x="408" y="392" width="18" height="8"/><text x="417" y="396">TPS1</text></g>
<g id="AGL18"><rect class="n" x="394" y="421" width="19" height="8"/><text x="403.5" y="425">AGL18</text></g>
<g id="NFYCOMPLEX"><text x="507" y="382">NF-Y COMPLEX</text></g>
<g id="TFL2"><rect class="n" x="545" y="378" width="20" height="8"/><text x="555" y="382">TFL2</text></g>
<g id="DNF"><rect class="mg" x="555" y="355" width="18" height="8"/><text class="m" x="564" y="359">DNF</text></g>
<g id="PIE1"><rect class="n" x="578" y="361" width="19" height="7"/><text x="587.5" y="364.5">PIE1</text></g>
<g id="SEF2"><rect class="n" x="578" y="368.5" width="19" height="7"/><text x="587.5" y="372">SEF</text></g>
<g id="ARP6"><rect class="n" x="578" y="376" width="19" height="7"/><text x="587.5" y="379.5">ARP6</text></g>
<g id="NUC"><rect class="n" x="606" y="364" width="17" height="8"/><text x="614.5" y="368">NUC</text></g>
<g id="n1"><rect class="n" x="604" y="383" width="8" height="8"/><text x="608" y="387">1</text></g>
<g id="SUS4"><rect class="n" x="672" y="373" width="20" height="10"/><text x="682" y="378">SUS4</text></g>
<g id="FT"><rect class="n" x="513" y="403" width="52" height="25"/><text x="539" y="415.5" style="font-size:5px">FT</text></g>
<g id="TSF"><rect class="n" x="521" y="431" width="17" height="8"/><text x="529.5" y="435">TSF</text></g>
<g id="TEM1"><rect class="n" x="580" y="424" width="19" height="7"/><text x="589.5" y="427.5">TEM1</text></g>
<g id="TEM2"><rect class="n" x="580" y="432" width="19" height="7"/><text x="589.5" y="435.5">TEM2</text></g>
<g id="RAV1"><rect class="mg" x="580" y="440" width="19" height="7"/><text class="m" x="589.5" y="443.5">RAV1</text></g>
<g id="PKDM7D"><rect class="mg" x="545" y="461" width="27" height="7"/><text class="m" x="558.5" y="464.5">PKDM7D</text></g>
<g id="PKDM7B"><rect class="mg" x="545" y="468.5" width="27" height="7"/><text class="m" x="558.5" y="472">PKDM7B</text></g>
<g id="JMJ14"><rect class="n" x="547" y="477" width="27" height="8"/><text x="560.5" y="481">JMJ14</text></g>
<g id="FDP"><rect class="n" x="515" y="476" width="19" height="8"/><text x="524.5" y="480">FDP</text></g>
<g id="SPL3"><rect class="n" x="468" y="469" width="19" height="7"/><text x="477.5" y="472.5">SPL3</text></g>
<g id="SPL4"><rect class="mg" x="468" y="477" width="19" height="7"/><text class="m" x="477.5" y="480.5">SPL4</text></g>
<g id="SPL5"><rect class="mg" x="468" y="485" width="19" height="7"/><text class="m" x="477.5" y="488.5">SPL5</text></g>
<g id="FAC"><rect x="515" y="504" width="18" height="8" fill="#e8401c" stroke="#a02010" stroke-width=".5"/><text x="524" y="508">FAC</text></g>
<g id="FT2"><rect class="n" x="545" y="504" width="24" height="8"/><text x="557" y="508">FT</text></g>
<g id="GRF3"><rect class="n" x="545" y="518" width="24" height="8"/><text x="557" y="522">GRF3</text></g>
<g id="FD"><rect class="n" x="502" y="520" width="22" height="8"/><text x="513" y="524">FD</text></g>
<g id="CO"><rect class="n" x="495" y="318" width="52" height="44"/><text x="521" y="337.5">CO/</text><text x="521" y="343">BBX1</text></g>
<g id="COL9"><rect class="n" x="462" y="311" width="18" height="13"/><text x="471" y="314.5">COL9/</text><text x="471" y="320">BBX7</text></g>
<g id="GRF">
<rect class="dk" x="438" y="259" width="20" height="6"/><text class="b" x="448" y="262" style="font-size:5px">GRF1</text>
<rect class="dk" x="438" y="265.4" width="20" height="6"/><text class="b" x="448" y="268.4" style="font-size:5px">GRF2</text>
<rect class="dk" x="438" y="271.8" width="20" height="6"/><text class="b" x="448" y="274.8" style="font-size:5px">GRF3</text>
<rect class="dk" x="438" y="278.2" width="20" height="6"/><text class="b" x="448" y="281.2" style="font-size:5px">GRF4</text>
<rect class="dk" x="438" y="284.6" width="20" height="6"/><text class="b" x="448" y="287.6" style="font-size:5px">GRF5</text>
<rect class="dk" x="438" y="291" width="20" height="6"/><text class="b" x="448" y="294" style="font-size:5px">GRF6</text>
<rect class="dk" x="438" y="297.4" width="20" height="6"/><text class="b" x="448" y="300.4" style="font-size:5px">GRF7</text>
<rect class="dk" x="438" y="303.8" width="20" height="6"/><text class="b" x="448" y="306.8" style="font-size:5px">GRF8</text>
<rect class="dk" x="438" y="310.2" width="20" height="6"/><text class="b" x="448" y="313.2" style="font-size:5px">GRF9</text>
</g>
<g id="FWA"><rect class="nb" x="413" y="257" width="20" height="8"/><text class="b" x="423" y="261">FWA</text></g>
<g id="PIF3"><rect class="nb" x="372" y="263" width="20" height="8"/><text class="b" x="382" y="267">PIF3</text></g>
<g id="CRY2"><rect class="nb" x="405" y="239" width="21" height="8"/><text class="b" x="415.5" y="243">CRY2</text></g>
<g id="CRY1"><rect class="nb" x="403" y="224" width="21" height="8"/><text class="b" x="413.5" y="228">CRY1</text></g>
<g id="PHYA"><rect class="nb" x="404" y="209" width="23" height="8"/><text class="b" x="415.5" y="213">PHYA</text></g>
<g id="CIB1"><rect class="nb" x="445" y="228" width="21" height="8"/><text class="b" x="455.5" y="232">CIB1</text></g>
<g id="FYPP3"><rect class="nb" x="472" y="209" width="26" height="8"/><text class="b" x="485" y="213">FYPP3</text></g>
<g id="PIF"><circle cx="485" cy="230" r="6" fill="#fff" stroke="#222" stroke-width=".8"/><text class="b" x="485" y="230" style="font-size:4.5px">PIF</text></g>
<g id="HRB1"><rect class="nb" x="487" y="187" width="26" height="9"/><text class="b" x="500" y="191.5">HRB1</text></g>
<g id="PIL6"><rect class="nb" x="448" y="181" width="20" height="8"/><text class="b" x="458" y="185">PIL6</text></g>
<g id="PIF4"><rect class="nb" x="478" y="161" width="20" height="8"/><text class="b" x="488" y="165">PIF4</text></g>
<g id="PIF7"><rect class="nb" x="480" y="135" width="20" height="8"/><text class="b" x="490" y="139">PIF7</text></g>
<g id="COP1"><rect class="nb" x="357" y="225" width="22" height="8"/><text class="b" x="368" y="229">COP1</text></g>
<g id="CDF">
<text class="b" x="296" y="262" style="font-size:5px">CDF1</text>
<text class="b" x="296" y="271" style="font-size:5px">CDF2</text>
<text class="b" x="296" y="280" style="font-size:5px">CDF3</text>
<text class="b" x="296" y="289" style="font-size:5px">CDF5</text>
</g>
<g id="RR2"><rect class="n" x="478" y="269" width="20" height="8"/><text x="488" y="273">RR2</text></g>
<g id="BBX19"><rect class="n" x="518" y="265" width="21" height="8"/><text x="528.5" y="269">BBX19</text></g>
<g id="SPA2"><rect class="n" x="551" y="299" width="19" height="8"/><text x="560.5" y="303">SPA2</text></g>
<g id="SPA1"><rect class="n" x="583" y="299" width="19" height="8"/><text x="592.5" y="303">SPA1</text></g>
<g id="SPA3"><rect class="n" x="583" y="309" width="19" height="8"/><text x="592.5" y="313">SPA3</text></g>
<g id="SPA4"><rect class="n" x="583" y="317" width="19" height="8"/><text x="592.5" y="321">SPA4</text></g>
<g id="COP1b"><rect class="n" x="583" y="326" width="19" height="8"/><text x="592.5" y="330">COP1</text></g>
<g id="COL1"><rect class="n" x="617" y="294" width="28" height="8"/><text x="631" y="298">COL1/BBX2</text></g>
<g id="COL2"><rect class="n" x="617" y="305" width="28" height="8"/><text x="631" y="309">COL2/BBX3</text></g>
<g id="COL4"><rect class="n" x="617" y="315" width="28" height="8"/><text x="631" y="319">COL4/BBX5</text></g>
<g id="COL5"><rect class="n" x="617" y="326" width="28" height="8"/><text x="631" y="330">COL5/BBX6</text></g>
<g id="PFT1"><rect class="nb" x="557" y="239" width="21" height="8"/><text class="b" x="567.5" y="243">PFT1</text></g>
<g id="WER"><rect class="nb" x="636" y="193" width="24" height="11"/><text class="b" x="648" y="198.5" style="font-size:7.5px">WER</text></g>
<g id="PHYB"><rect class="n" x="553" y="180" width="20" height="8"/><text x="563" y="184">PHYB</text></g>
<g id="PHYD"><rect class="n" x="553" y="189" width="20" height="8"/><text x="563" y="193">PHYD</text></g>
<g id="PHYE"><rect class="n" x="553" y="198" width="20" height="8"/><text x="563" y="202">PHYE</text></g>
<g id="SRR1"><rect class="n" x="554" y="158" width="19" height="8"/><text x="563.5" y="162">SRR1</text></g>
<g id="PIF6"><rect class="n" x="583" y="171" width="18" height="8"/><text x="592" y="175">PIF6</text></g>
<g id="DET1"><rect class="n" x="398" y="78" width="21" height="8"/><text x="408.5" y="82">DET1</text></g>
<g id="DDB1B"><rect class="n" x="407" y="96" width="21" height="8"/><text x="417.5" y="100">DDB1B</text></g>
<g id="RBX1"><rect class="n" x="391" y="111" width="19" height="8"/><text x="400.5" y="115">RBX1</text></g>
<g id="FUS6"><rect class="n" x="398" y="125" width="20" height="8"/><text x="408" y="129">FUS6</text></g>
<g id="CUL4"><text class="b" x="407" y="150">CUL4</text></g>
<g id="DDB2"><text class="b" x="448" y="88" style="font-size:8.5px">DDB2</text></g>
<g id="DDB1A"><rect class="n" x="432" y="103" width="38" height="12"/><text class="b" x="450" y="109" style="font-size:8.5px">DDB1A</text></g>
<g id="DCAF1"><rect class="n" x="445" y="123" width="22" height="8"/><text x="456" y="127">DCAF1</text></g>
<g id="SINAT5"><rect class="n" x="429" y="62" width="23" height="8"/><text x="440.5" y="66">SINAT5</text></g>

<g id="NF-Y">
<rect class="n" x="791" y="98" width="33" height="8"/><text class="nf" x="807.5" y="102">NF-YB subunit</text>
<rect class="dk" x="792" y="108" width="24" height="78" fill="#bdbdbd"/>
<text class="nf" x="804" y="111">NF-YB1</text><text class="nf" x="804" y="117">NF-YB2</text><text class="nf" x="804" y="123">NF-YB3</text><text class="nf" x="804" y="129">NF-YB4</text><text class="nf" x="804" y="135">NF-YB5</text><text class="nf" x="804" y="141">NF-YB6</text><text class="nf" x="804" y="147">NF-YB7</text><text class="nf" x="804" y="153">NF-YB8</text><text class="nf" x="804" y="159">NF-YB9</text><text class="nf" x="804" y="165">NF-YB10</text><text class="nf" x="804" y="171">NF-YB11</text><text class="nf" x="804" y="177">NF-YB12</text><text class="nf" x="804" y="183">NF-YB13</text>
<rect class="n" x="731" y="146" width="34" height="8"/><text class="nf" x="748" y="150">NF-YA subunit</text>
<rect class="dk" x="736" y="158" width="24" height="69" fill="#d0d0d0"/>
<text class="nf" x="748" y="162">NF-YA1</text><text class="nf" x="748" y="168.8">NF-YA2</text><text class="nf" x="748" y="175.6">NF-YA3</text><text class="nf" x="748" y="182.4">NF-YA4</text><text class="nf" x="748" y="189.2">NF-YA5</text><text class="nf" x="748" y="196">NF-YA6</text><text class="nf" x="748" y="202.8">NF-YA7</text><text class="nf" x="748" y="209.6">NF-YA8</text><text class="nf" x="748" y="216.4">NF-YA9</text><text class="nf" x="748" y="223.2">NF-YA10</text>
<rect class="n" x="791" y="209" width="33" height="8"/><text class="nf" x="807.5" y="213">NF-YC subunit</text>
<rect class="dk" x="792" y="218" width="24" height="62" fill="#bdbdbd"/>
<text class="nf" x="804" y="221">NF-YC1</text><text class="nf" x="804" y="227.2">NF-YC2</text><text class="nf" x="804" y="233.4">NF-YC3</text><text class="nf" x="804" y="239.6">NF-YC4</text><text class="nf" x="804" y="245.8">NF-YC5</text><text class="nf" x="804" y="252">NF-YC6</text><text class="nf" x="804" y="258.2">NF-YC7</text><text class="nf" x="804" y="264.4">NF-YC8</text><text class="nf" x="804" y="270.6">NF-YC9</text><text class="nf" x="804" y="276.8">NF-YC10</text>
</g>

<g id="FLOWERING">
<path d="M667,687C664,698 658,703 650,705C640,707 633,712 633,722C620,722 610,728 612,736C608,741 603,743 598,744C603,745 608,747 612,752C610,760 620,766 633,766C633,776 640,781 650,783C660,785 666,790 669,802C672,790 678,785 688,783C698,781 704,776 704,766C716,766 724,760 722,752C726,745 728,741 731,740C728,739 726,736 722,732C724,724 716,718 704,718C704,711 698,706 688,704C678,702 671,698 667,687Z" fill="#fff" stroke="#111" stroke-width="1.2"/>
<rect x="612" y="729" width="110" height="26" fill="none" stroke="#e04020" stroke-width=".8"/>
<text x="667" y="742.5" style="font-weight:bold;font-size:8px;fill:#e0402a">FLOWERING</text>
</g>
</g>

<g id="labels">
<text class="lab" x="95" y="246">Autonomous Pathway</text>
<text class="lab" x="632" y="140">Photoperiod</text>
<text class="lab" x="722" y="346">Ambient temperature</text>
<text class="lab" x="713" y="426">Sugar Metabolism</text>
<text class="lab" x="698" y="512">Brassinosteroid</text>
<text class="lab" x="645" y="532">Age</text>
<text class="lab" x="140" y="711">Vernalization</text>
<text class="lab" x="299" y="785">Gibberellin</text>
</g>

<g id="refs">
<text class="num" x="201" y="45">68, 70, 142</text>
<text class="num" x="133" y="52">33, 48, 60, 66</text>
<text class="num" x="180" y="45">44</text>
<text class="num" x="272" y="66">20, 147, 188</text>
<text class="num" x="206" y="75">28, 142</text>
<text class="num" x="246" y="106">40, 107</text>
<text class="num" x="210" y="146">9, 108</text>
<text class="num" x="361" y="78">43</text>
<text class="num" x="338" y="175">4, 36, 173</text>
<text class="num" x="364" y="183">12, 13</text>
<text class="num" x="325" y="214">119</text>
<text class="num" x="283" y="200">130</text>
<text class="num" x="64" y="136">27</text>
<text class="num" x="88" y="152">171</text>
<text class="num" x="123" y="154">80</text>
<text class="num" x="58" y="165">19</text>
<text class="num" x="74" y="185">19</text>
<text class="num" x="168" y="205">159</text>
<text class="num" x="436" y="58">58, 94</text>
<text class="num" x="456" y="78">127</text>
<text class="num" x="438" y="101">9</text>
<text class="num" x="494" y="131">62</text>
<text class="num" x="554" y="153">86, 150</text>
<text class="num" x="573" y="178">118</text>
<text class="num" x="596" y="167">61</text>
<text class="num" x="655" y="190">74</text>
<text class="num" x="579" y="237">119</text>
<text class="num" x="535" y="261">11, 136</text>
<text class="num" x="420" y="252">60</text>
<text class="num" x="472" y="229">119</text>
<text class="num" x="500" y="205">59, 4, 82, 127</text>
<text class="num" x="550" y="295">119</text>
<text class="num" x="598" y="295">129</text>
<text class="num" x="644" y="290">120</text>
<text class="num" x="771" y="337">40, 183</text>
<text class="num" x="620" y="361">80</text>
<text class="num" x="691" y="370">80</text>
<text class="num" x="612" y="380">48</text>
<text class="num" x="595" y="358">179</text>
<text class="num" x="570" y="351">6, 179</text>
<text class="num" x="545" y="311">63, 30</text>
<text class="num" x="492" y="390">71, 25</text>
<text class="num" x="552" y="374">22, 97</text>
<text class="num" x="596" y="421">105, 108</text>
<text class="num" x="599" y="430">116</text>
<text class="num" x="599" y="438">106</text>
<text class="num" x="574" y="462">141</text>
<text class="num" x="574" y="470">141</text>
<text class="num" x="533" y="472">115</text>
<text class="num" x="533" y="430">119</text>
<text class="num" x="680" y="460">21, 173</text>
<text class="num" x="681" y="503">36</text>
<text class="num" x="428" y="480">40, 69</text>
<text class="num" x="404" y="437">138</text>
<text class="num" x="334" y="392">102</text>
<text class="num" x="408" y="298">36</text>
<text class="num" x="295" y="352">126, 15</text>
<text class="num" x="296" y="326">19</text>
<text class="num" x="320" y="253">18, 108</text>
<text class="num" x="840" y="82">34</text>
<text class="num" x="540" y="597">21, 102</text>
<text class="num" x="548" y="608">129</text>
<text class="num" x="478" y="603">119</text>
<text class="num" x="488" y="558">119</text>
<text class="num" x="430" y="545">18</text>
<text class="num" x="425" y="533">84</text>
<text class="num" x="398" y="547">93</text>
<text class="num" x="382" y="641">51, 180</text>
<text class="num" x="308" y="674">81, 175</text>
<text class="num" x="317" y="685">176</text>
<text class="num" x="317" y="694">176</text>
<text class="num" x="300" y="760">137</text>
<text class="num" x="325" y="760">107</text>
<text class="num" x="307" y="620">58</text>
<text class="num" x="315" y="595">87</text>
<text class="num" x="370" y="605">104</text>
<text class="num" x="402" y="605">83</text>
<text class="num" x="237" y="583">7, 75, 180</text>
<text class="num" x="237" y="601">53, 89</text>
<text class="num" x="259" y="630">57</text>
<text class="num" x="260" y="669">27</text>
<text class="num" x="262" y="695">29</text>
<text class="num" x="285" y="710">87, 116</text>
<text class="num" x="176" y="603">71, 75, 73</text>
<text class="num" x="145" y="610">96, 102</text>
<text class="num" x="182" y="637">151</text>
<text class="num" x="190" y="663">42</text>
<text class="num" x="90" y="665">172</text>
<text class="num" x="65" y="675">38</text>
<text class="num" x="48" y="650">85</text>
<text class="num" x="44" y="618">117</text>
<text class="num" x="60" y="577">177</text>
<text class="num" x="62" y="549">85, 168</text>
<text class="num" x="130" y="560">95, 135</text>
<text class="num" x="160" y="518">125</text>
<text class="num" x="125" y="532">17</text>
<text class="num" x="172" y="488">129</text>
<text class="num" x="172" y="496">128</text>
<text class="num" x="214" y="490">120</text>
<text class="num" x="203" y="505">94, 76, 58</text>
<text class="num" x="111" y="461">108</text>
<text class="num" x="111" y="472">178</text>
<text class="num" x="111" y="493">111</text>
<text class="num" x="120" y="510">23</text>
<text class="num" x="65" y="483">84, 98</text>
<text class="num" x="56" y="467">49</text>
<text class="num" x="63" y="452">85, 98</text>
<text class="num" x="75" y="426">3, 168</text>
<text class="num" x="90" y="396">77</text>
<text class="num" x="92" y="411">74</text>
<text class="num" x="52" y="400">125</text>
<text class="num" x="48" y="374">45</text>
<text class="num" x="48" y="348">45</text>
<text class="num" x="59" y="327">5</text>
<text class="num" x="80" y="341">115</text>
<text class="num" x="128" y="293">92, 144</text>
<text class="num" x="180" y="298">120</text>
<text class="num" x="210" y="314">92</text>
<text class="num" x="188" y="325">86</text>
<text class="num" x="201" y="351">97</text>
<text class="num" x="212" y="372">34, 134</text>
<text class="num" x="266" y="381">120</text>
<text class="num" x="264" y="341">138</text>
<text class="num" x="282" y="350">90, 126</text>
<text class="num" x="170" y="440">128</text>
<text class="num" x="207" y="419">15, 116, 140</text>
<text class="num" x="180" y="268">1, 49, 109</text>
<text class="num" x="96" y="251">91, 132</text>
</g>
</svg>
